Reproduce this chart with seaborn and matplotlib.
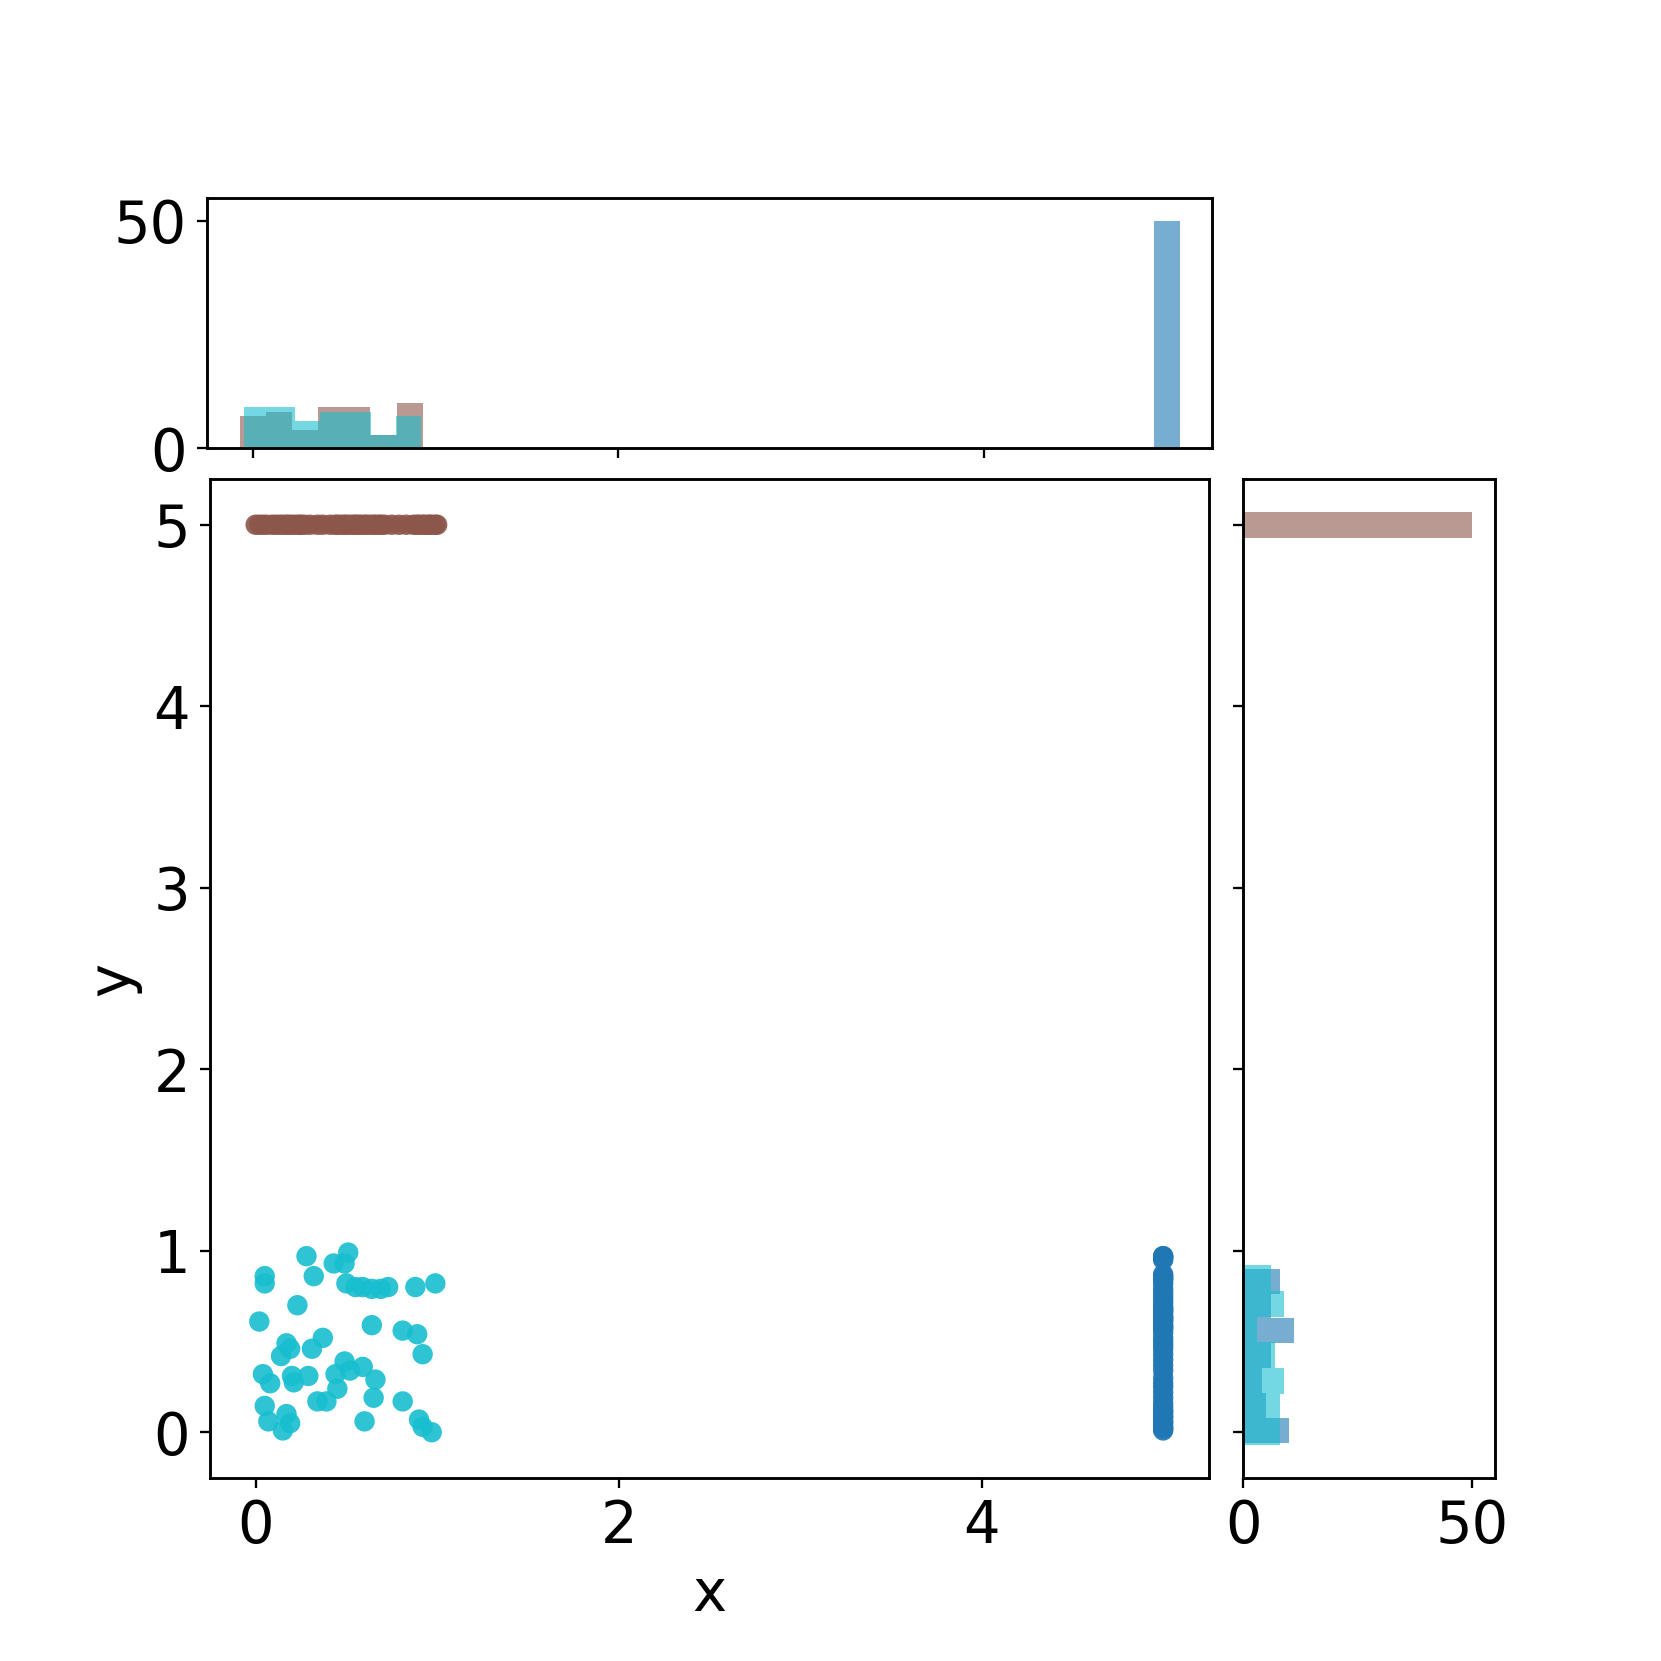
import numpy as np
import pandas as pd
import matplotlib
matplotlib.use("Agg")
import matplotlib.pyplot as plt
import seaborn as sns

# group 0 (blue): x fixed at 5, y spread over [0, 1]
blue_x_value = 5.0
blue_y = [0.01, 0.02, 0.03, 0.05, 0.06, 0.08, 0.09, 0.11, 0.12, 0.14,
          0.16, 0.19, 0.22, 0.25, 0.27,
          0.30, 0.34, 0.37, 0.40,
          0.43, 0.46, 0.48, 0.50, 0.52, 0.55,
          0.57, 0.58, 0.59, 0.61, 0.62, 0.63, 0.64, 0.66, 0.67, 0.68, 0.69,
          0.71, 0.73, 0.75, 0.77, 0.79, 0.82,
          0.84, 0.85, 0.86, 0.87, 0.95, 0.96, 0.97, 0.97]

# group 1 (brown): y fixed at 5, x spread over [0, 1]
brown_y_value = 5.0
brown_x = [0.00, 0.02, 0.04, 0.06, 0.09, 0.11, 0.13,
           0.15, 0.17, 0.18, 0.20, 0.22, 0.24, 0.25, 0.27,
           0.30, 0.34, 0.37, 0.41,
           0.44, 0.45, 0.47, 0.49, 0.50, 0.52, 0.54, 0.55, 0.565,
           0.58, 0.60, 0.61, 0.63, 0.65, 0.66, 0.68, 0.69, 0.71,
           0.75, 0.79, 0.83,
           0.87, 0.89, 0.90, 0.92, 0.93, 0.95, 0.96, 0.97, 0.99, 1.00]

# group 2 (cyan): random cloud in the unit square
cyan_x = [0.28, 0.51, 0.43, 0.49, 0.32, 0.05, 0.05, 0.50, 0.59, 0.64,
          0.69, 0.73, 0.88, 0.99, 0.23, 0.02, 0.64, 0.81, 0.89, 0.92,
          0.17, 0.19, 0.14, 0.37, 0.31, 0.49, 0.44, 0.52, 0.59, 0.66,
          0.45, 0.04, 0.08, 0.20, 0.21, 0.29, 0.65, 0.34, 0.39, 0.81,
          0.05, 0.07, 0.17, 0.19, 0.15, 0.60, 0.90, 0.92, 0.97, 0.55]
cyan_y = [0.97, 0.99, 0.93, 0.93, 0.86, 0.86, 0.82, 0.82, 0.80, 0.79,
          0.79, 0.80, 0.80, 0.82, 0.70, 0.61, 0.59, 0.56, 0.54, 0.43,
          0.49, 0.46, 0.42, 0.52, 0.46, 0.39, 0.32, 0.34, 0.36, 0.29,
          0.24, 0.32, 0.27, 0.31, 0.275, 0.31, 0.19, 0.17, 0.17, 0.17,
          0.145, 0.06, 0.10, 0.05, 0.01, 0.06, 0.07, 0.03, 0.00, 0.80]

labels = [0, 1, 2]
n_bins = 7

df = pd.concat([
    pd.DataFrame({"x": blue_x_value, "y": blue_y, "label": 0}),
    pd.DataFrame({"x": brown_x, "y": brown_y_value, "label": 1}),
    pd.DataFrame({"x": cyan_x, "y": cyan_y, "label": 2}),
], ignore_index=True)

# same colours as scatter(c=label, cmap="tab10")
cmap = plt.get_cmap("tab10")
norm = plt.Normalize(min(labels), max(labels))
palette = {k: cmap(norm(k)) for k in labels}

plt.rcParams["font.size"] = 20
plt.rcParams["axes.labelsize"] = 20
plt.rcParams["axes.linewidth"] = 1.0

fig = plt.figure(figsize=(8, 8))
ax = fig.add_axes([0.1266, 0.1104, 0.601, 0.601])
ax_top = fig.add_axes([0.1248, 0.7302, 0.6051, 0.1505], sharex=ax)
ax_right = fig.add_axes([0.7485, 0.1104, 0.1514, 0.601], sharey=ax)

sns.scatterplot(data=df, x="x", y="y", hue="label", palette=palette,
                s=50, linewidth=0, alpha=0.9, legend=False, ax=ax)


def marg_hist(axis, vals, color, orientation):
    vals = np.asarray(vals, dtype=float)
    align = "mid" if np.ptp(vals) == 0 else "left"
    axis.hist(vals, bins=n_bins, color=color, alpha=0.6, align=align,
              orientation=orientation)


max_count = 0
for k in labels:
    sub = df[df["label"] == k]
    marg_hist(ax_top, sub["x"], palette[k], "vertical")
    marg_hist(ax_right, sub["y"], palette[k], "horizontal")
    max_count = max(max_count,
                    np.histogram(sub["x"], bins=n_bins)[0].max(),
                    np.histogram(sub["y"], bins=n_bins)[0].max())

pad_x = 0.05 * (df["x"].max() - df["x"].min())
pad_y = 0.05 * (df["y"].max() - df["y"].min())
ax.set_xlim(df["x"].min() - pad_x, df["x"].max() + pad_x)
ax.set_ylim(df["y"].min() - pad_y, df["y"].max() + pad_y)
ax.set_xticks([0, 2, 4])
ax.set_yticks([0, 1, 2, 3, 4, 5])
ax.set_xlabel("x")
ax.set_ylabel("y")

ax_top.set_ylim(0, 1.1 * max_count)
ax_top.set_yticks([0, 50])
ax_top.tick_params(axis="x", labelbottom=False)

ax_right.set_xlim(0, 1.1 * max_count)
ax_right.set_xticks([0, 50])
ax_right.tick_params(axis="y", labelleft=False)

fig.savefig("out.png", dpi=1661 / 8)
